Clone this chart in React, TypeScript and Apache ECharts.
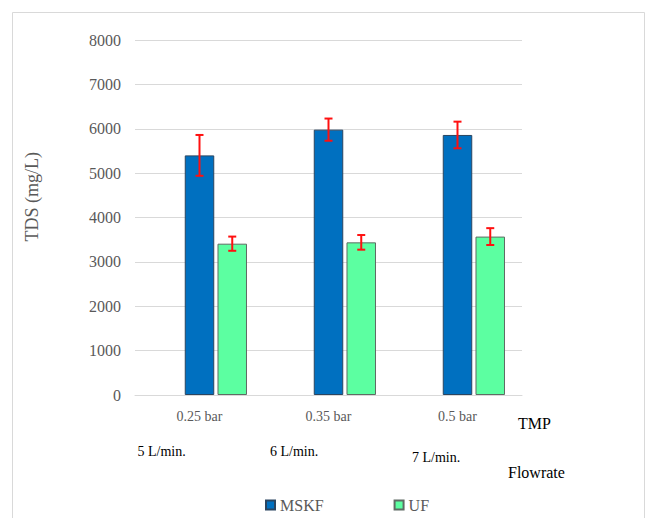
import React, { useEffect, useRef } from "react";
import * as echarts from "echarts";

const categories = ["0.25 bar", "0.35 bar", "0.5 bar"];
const flowrates = ["5 L/min.", "6 L/min.", "7 L/min."];
const mskfValues = [5400, 5980, 5860];
const mskfErrors = [460, 250, 300];
const ufValues = [3410, 3440, 3570];
const ufErrors = [160, 165, 190];
const yTicks = { min: 0, max: 8000, interval: 1000 };

const FONT = "Liberation Serif, Times New Roman, serif";
const BAR_W = 29.5;
const F16 = 16;

function errorSeries(values: number[], errors: number[], offset: number) {
  return {
    type: "custom",
    z: 10,
    data: values.map((v, i) => [i, v, errors[i]]),
    renderItem: (params: any, api: any) => {
      const x = api.value(0);
      const v = api.value(1);
      const e = api.value(2);
      const top = api.coord([x, v + e]);
      const bot = api.coord([x, v - e]);
      const cx = top[0] + offset;
      const cap = 4;
      const style = { stroke: "#FF1010", lineWidth: 2 };
      return {
        type: "group",
        children: [
          { type: "line", shape: { x1: cx, y1: top[1], x2: cx, y2: bot[1] }, style },
          { type: "line", shape: { x1: cx - cap, y1: top[1], x2: cx + cap, y2: top[1] }, style },
          { type: "line", shape: { x1: cx - cap, y1: bot[1], x2: cx + cap, y2: bot[1] }, style },
        ],
      };
    },
  };
}

export default function App() {
  const ref = useRef<HTMLDivElement>(null);
  useEffect(() => {
    if (!ref.current) return;
    const chart = echarts.init(ref.current, undefined, { renderer: "svg" });
    const flowPos = [
      [137.5, 451.5],
      [270, 451.5],
      [412, 457.5],
    ];
    chart.setOption({
      animation: false,
      backgroundColor: "#ffffff",
      grid: { left: 135, right: 124, top: 40, bottom: 123, containLabel: false },
      legend: {
        data: ["MSKF", "UF"],
        icon: "rect",
        left: 260,
        top: 492,
        itemWidth: 9,
        itemHeight: 9,
        itemGap: 70,
        textStyle: { fontFamily: FONT, fontSize: F16, color: "#595959" },
      },
      xAxis: {
        type: "category",
        data: categories,
        axisLine: { show: true, lineStyle: { color: "#d9d9d9", width: 1 } },
        axisTick: { show: false },
        axisLabel: { fontFamily: FONT, fontSize: 14, color: "#595959", margin: 14 },
        splitLine: { show: false },
      },
      yAxis: {
        type: "value",
        min: yTicks.min,
        max: yTicks.max,
        interval: yTicks.interval,
        axisLine: { show: false },
        axisTick: { show: false },
        axisLabel: {
          fontFamily: FONT,
          fontSize: F16,
          color: "#595959",
          margin: 14,
          formatter: (v: number) => String(v),
        },
        splitLine: { lineStyle: { color: "#d9d9d9", width: 1 } },
      },
      graphic: [
        {
          type: "rect",
          shape: { x: 12.5, y: 12.5, width: 632, height: 530 },
          style: { fill: "none", stroke: "#d9d9d9", lineWidth: 1 },
          silent: true,
        },
        {
          type: "text",
          x: 31.7,
          y: 196.7,
          rotation: Math.PI / 2,
          style: {
            text: "TDS (mg/L)",
            fontFamily: FONT,
            fontSize: 18,
            fill: "#595959",
            align: "center",
            verticalAlign: "middle",
          },
        },
        {
          type: "text",
          x: 518,
          y: 423.6,
          style: { text: "TMP", fontFamily: FONT, fontSize: F16, fill: "#000000", align: "left", verticalAlign: "middle" },
        },
        {
          type: "text",
          x: 508,
          y: 472.5,
          style: { text: "Flowrate", fontFamily: FONT, fontSize: F16, fill: "#000000", align: "left", verticalAlign: "middle" },
        },
        ...flowrates.map((f, i) => ({
          type: "text",
          x: flowPos[i][0],
          y: flowPos[i][1],
          style: { text: f, fontFamily: FONT, fontSize: 14, fill: "#000000", align: "left", verticalAlign: "middle" },
        })),
      ],
      series: [
        {
          type: "bar",
          name: "",
          data: categories.map(() => null),
          barWidth: BAR_W,
          barGap: "11%",
        },
        {
          type: "bar",
          name: "MSKF",
          data: mskfValues,
          barWidth: BAR_W,
          barGap: "11%",
          itemStyle: { color: "#0070C0", borderColor: "#2a4560", borderWidth: 1 },
        },
        {
          type: "bar",
          name: "UF",
          data: ufValues,
          barWidth: BAR_W,
          barGap: "11%",
          itemStyle: { color: "#5CFFA1", borderColor: "#5f6b64", borderWidth: 1 },
        },
        errorSeries(mskfValues, mskfErrors, 0),
        errorSeries(ufValues, ufErrors, BAR_W * 1.11),
      ],
    });
    return () => chart.dispose();
  }, []);
  return (
    <div
      ref={ref}
      style={{ position: "fixed", left: 0, top: 0, width: 646, height: 518 }}
    />
  );
}
